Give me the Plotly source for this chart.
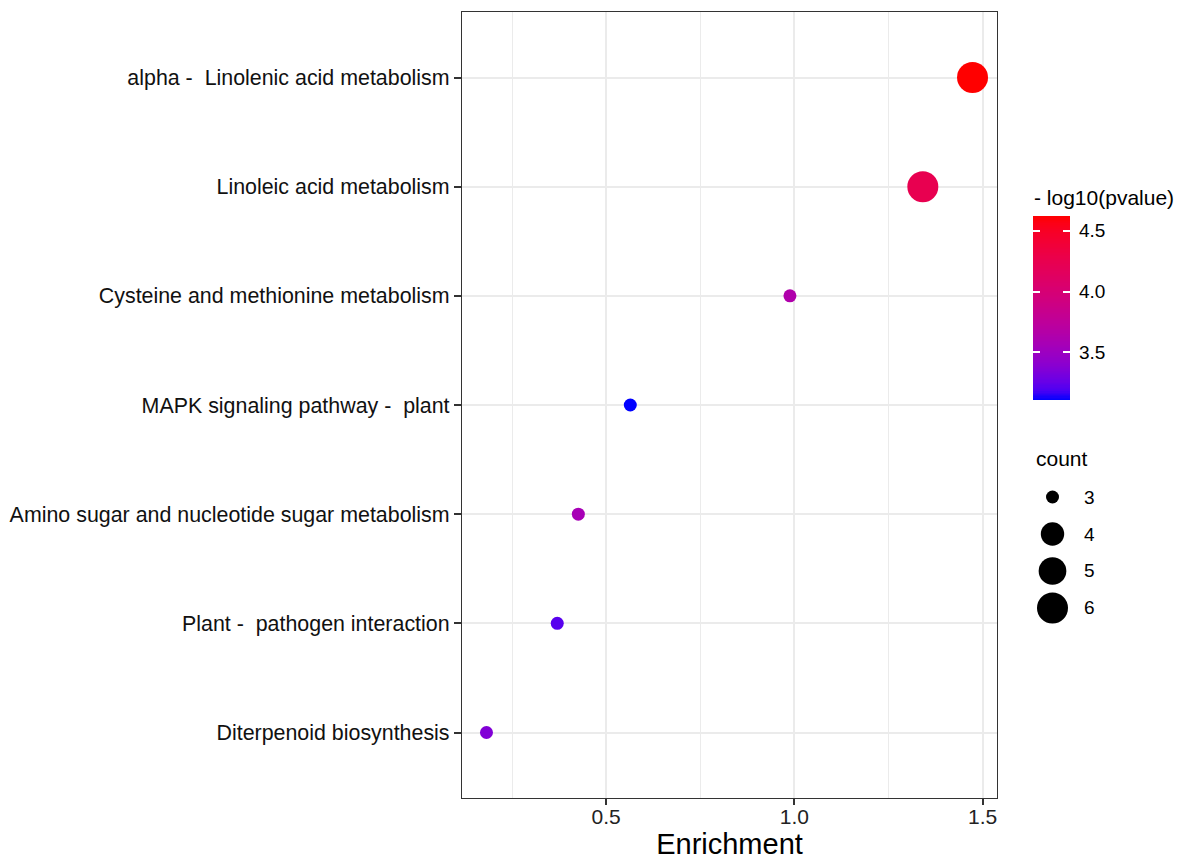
import numpy as np
import plotly.graph_objects as go

# ---- data -------------------------------------------------------------
pathways = [
    "alpha -\u00a0 Linolenic acid metabolism",
    "Linoleic acid metabolism",
    "Cysteine and methionine metabolism",
    "MAPK signaling pathway -\u00a0 plant",
    "Amino sugar and nucleotide sugar metabolism",
    "Plant -\u00a0 pathogen interaction",
    "Diterpenoid biosynthesis",
]
enrichment = [1.473, 1.341, 0.988, 0.564, 0.426, 0.370, 0.182]
neg_log10_p = [4.62, 4.24, 3.64, 3.11, 3.57, 3.22, 3.36]
gene_count = [6, 6, 3, 3, 3, 3, 3]

size_breaks = [3, 4, 5, 6]
color_ticks = [3.5, 4.0, 4.5]
enrich_ticks = [0.5, 1.0, 1.5]
enrich_minor = [0.25, 0.75, 1.25]

FONT = "Liberation Sans, Arial, sans-serif"
W, H = 1184, 862


# ---- blue -> red gradient interpolated in CIELAB ----------------------
M = np.array([[0.4124564, 0.3575761, 0.1804375],
              [0.2126729, 0.7151522, 0.0721750],
              [0.0193339, 0.1191920, 0.9503041]])
WHITE = np.array([0.95047, 1.0, 1.08883])


def rgb_to_lab(rgb):
    c = np.array(rgb, dtype=float) / 255.0
    c = np.where(c <= 0.04045, c / 12.92, ((c + 0.055) / 1.055) ** 2.4)
    xyz = M @ c / WHITE
    f = np.where(xyz > (6 / 29) ** 3, np.cbrt(xyz), xyz / (3 * (6 / 29) ** 2) + 4 / 29)
    return np.array([116 * f[1] - 16, 500 * (f[0] - f[1]), 200 * (f[1] - f[2])])


def lab_to_rgb(lab):
    L, a, b = lab
    fy = (L + 16) / 116
    f = np.array([fy + a / 500, fy, fy - b / 200])
    xyz = np.where(f > 6 / 29, f ** 3, 3 * (6 / 29) ** 2 * (f - 4 / 29)) * WHITE
    c = np.linalg.solve(M, xyz)
    c = np.clip(c, 0, 1)
    c = np.where(c <= 0.0031308, 12.92 * c, 1.055 * c ** (1 / 2.4) - 0.055)
    r, g, bb = (np.clip(np.round(c * 255), 0, 255)).astype(int)
    return f"rgb({r},{g},{bb})"


lab_lo = rgb_to_lab((0, 0, 255))
lab_hi = rgb_to_lab((255, 0, 0))
colorscale = [[t, lab_to_rgb(lab_lo + (lab_hi - lab_lo) * t)] for t in np.linspace(0, 1, 21)]


def dot_diameter(c):
    return 13 + 18 * np.sqrt((np.asarray(c, dtype=float) - 3) / 3)


# ---- layout geometry (pixels) -----------------------------------------
px_l, px_r, px_t, px_b = 462, 997, 12, 798
bar_l, bar_r, bar_t, bar_b = 1033, 1070, 216, 400
c_lo, c_hi = min(neg_log10_p), max(neg_log10_p)


def xp(px):
    return px / W


def yp(py):
    return (H - py) / H


fig = go.Figure()

fig.add_trace(go.Scatter(
    x=enrichment, y=pathways, mode="markers",
    marker=dict(
        size=dot_diameter(gene_count),
        color=neg_log10_p,
        colorscale=colorscale,
        cmin=c_lo, cmax=c_hi,
        line=dict(width=0),
        opacity=1,
        showscale=False,
    ),
    showlegend=False, hoverinfo="x+y",
))

# colour key: a one-column heatmap spanning the colour range
bar_edges = np.linspace(c_lo, c_hi, 151)
bar_mid = (bar_edges[:-1] + bar_edges[1:]) / 2
fig.add_trace(go.Heatmap(
    x=[0, 1], y=bar_edges, z=bar_mid.reshape(-1, 1),
    colorscale=colorscale, zmin=c_lo, zmax=c_hi, showscale=False,
    xaxis="x3", yaxis="y3", hoverinfo="skip",
))

# size key
fig.add_trace(go.Scatter(
    x=[0.5] * len(size_breaks), y=size_breaks, mode="markers",
    marker=dict(size=dot_diameter(size_breaks), color="#000000", opacity=1,
                line=dict(width=0)),
    xaxis="x2", yaxis="y2", showlegend=False, hoverinfo="skip",
))

annotations = [
    dict(text=str(b), x=xp(1082), xref="paper", y=b, yref="y2",
         xanchor="left", yanchor="middle", showarrow=False,
         font=dict(family=FONT, size=19, color="#000"))
    for b in size_breaks
]
annotations.append(dict(text="count", x=xp(1034), xref="paper", y=yp(458), yref="paper",
                        xanchor="left", yanchor="middle", showarrow=False,
                        font=dict(family=FONT, size=21, color="#000")))
annotations.append(dict(text="- log10(pvalue)", x=xp(1032), xref="paper", y=yp(197),
                        yref="paper", xanchor="left", yanchor="middle", showarrow=False,
                        font=dict(family=FONT, size=21, color="#000")))

fig.update_layout(
    width=W, height=H,
    margin=dict(l=0, r=0, t=0, b=0),
    paper_bgcolor="white", plot_bgcolor="white",
    font=dict(family=FONT, color="#000"),
    xaxis=dict(
        domain=[xp(px_l), xp(px_r)],
        range=[0.117, 1.538],
        tickvals=enrich_ticks, ticktext=[f"{v:.1f}" for v in enrich_ticks],
        ticks="outside", ticklen=6, tickwidth=1.5, tickcolor="#333",
        ticklabelstandoff=-6,
        tickfont=dict(family=FONT, size=21, color="#222"),
        showgrid=True, gridcolor="#ebebeb", gridwidth=2,
        minor=dict(tickvals=enrich_minor, showgrid=True, gridcolor="#ebebeb",
                   gridwidth=1.3, ticks=""),
        showline=True, linecolor="#333", linewidth=1.3, mirror=True,
        zeroline=False,
        title=dict(text="Enrichment", font=dict(family=FONT, size=29, color="#000"),
                   standoff=6),
    ),
    yaxis=dict(
        domain=[yp(px_b), yp(px_t)],
        type="category", categoryorder="array", categoryarray=pathways,
        range=[6.6, -0.6],
        ticks="outside", ticklen=7, tickwidth=1.5, tickcolor="#333",
        tickfont=dict(family=FONT, size=21.4, color="#111"),
        showgrid=True, gridcolor="#ebebeb", gridwidth=2,
        showline=True, linecolor="#333", linewidth=1.3, mirror=True,
        zeroline=False,
    ),
    xaxis2=dict(domain=[xp(1030), xp(1075)], range=[0, 1], visible=False, fixedrange=True),
    yaxis2=dict(domain=[yp(625), yp(480)], range=[6.46, 2.54], visible=False,
                fixedrange=True, anchor="x2"),
    xaxis3=dict(domain=[xp(bar_l), xp(bar_r)], range=[0, 1], visible=False,
                fixedrange=True, anchor="y3"),
    yaxis3=dict(
        domain=[yp(bar_b), yp(bar_t)], range=[c_lo, c_hi], anchor="x3",
        side="right", fixedrange=True,
        tickvals=color_ticks, ticktext=[f"{v:.1f}" for v in color_ticks],
        ticks="inside", mirror="ticks", ticklen=7, tickwidth=1.5, tickcolor="white",
        ticklabelstandoff=8,
        showline=False, showgrid=False, zeroline=False,
        tickfont=dict(family=FONT, size=19, color="#000"),
    ),
    annotations=annotations,
)

fig.write_html("out.html")
